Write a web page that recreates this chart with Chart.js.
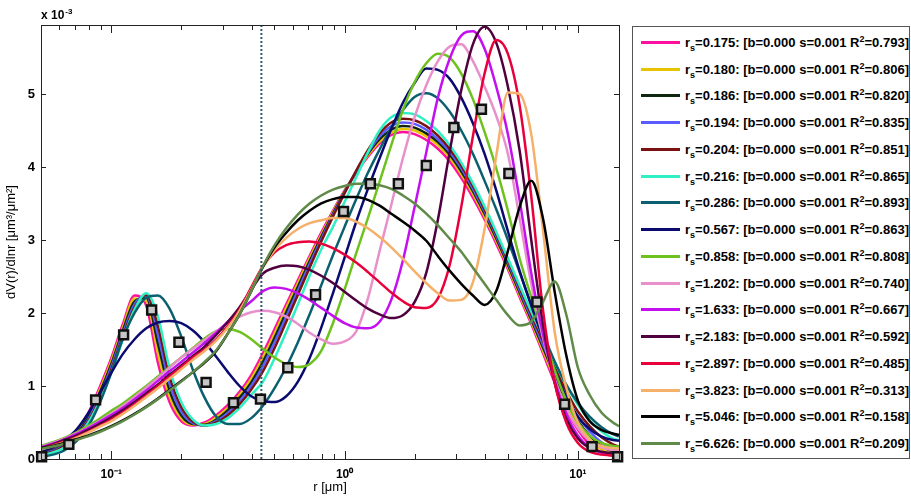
<!DOCTYPE html>
<html>
<head>
<meta charset="utf-8">
<script src="https://cdn.jsdelivr.net/npm/chart.js@4.4.1/dist/chart.umd.min.js"></script>
<style>
  body { margin: 0; background: #fff; }
  #wrap { position: relative; width: 911px; height: 498px; }
  #legend {
    position: absolute; left: 632px; top: 26px; width: 278px; height: 433px;
    border: 1px solid #555; box-sizing: border-box; background: #fff;
    font: bold 13px "Liberation Sans", Arial, sans-serif; color: #000;
  }
  .row { position: absolute; left: 0; height: 20px; display: flex; align-items: center; white-space: nowrap; }
  .sw { display: inline-block; width: 39px; height: 3px; margin-left: 8px; margin-right: 5px; }
  sub, sup { font-size: 9px; line-height: 0; }
</style>
</head>
<body>
<div id="wrap">
  <canvas id="myChart" width="911" height="498"></canvas>
  <div id="legend"></div>
</div>
<script>
// radius grid [um]
const radii = [0.05, 0.0562, 0.0631, 0.0708, 0.0794, 0.0891, 0.1, 0.1122, 0.1259, 0.1413, 0.1585, 0.1778, 0.1995,
  0.2239, 0.2512, 0.2818, 0.3162, 0.3548, 0.3981, 0.4467, 0.5012, 0.5623, 0.631, 0.7079, 0.7943, 0.8913, 1,
  1.122, 1.259, 1.413, 1.585, 1.778, 1.995, 2.239, 2.512, 2.818, 3.162, 3.548, 3.981, 4.467, 5.012, 5.623,
  6.31, 7.079, 7.943, 8.913, 10, 11.22, 12.59, 14.13, 15];

const rsLabels = ["0.175", "0.180", "0.186", "0.194", "0.204", "0.216", "0.286", "0.567",
  "0.858", "1.202", "1.633", "2.183", "2.897", "3.823", "5.046", "6.626"];
const r2Labels = ["0.793", "0.806", "0.820", "0.835", "0.851", "0.865", "0.893", "0.863",
  "0.808", "0.740", "0.667", "0.592", "0.485", "0.313", "0.158", "0.209"];
const colors = ["#ff10a0", "#e8c400", "#0e260e", "#5a5cff", "#7a1212", "#2ef0c4", "#0b6070", "#0a0a70",
  "#6ec21e", "#e890cc", "#c410f0", "#50003e", "#e8003c", "#f5b06a", "#000000", "#5f8a48"];

// dV/dlnr, units of 1e-3
const s0175 = [0.08, 0.13, 0.22, 0.38, 0.62, 0.98, 1.38, 1.85, 2.24, 2.10, 1.32, 0.78, 0.52, 0.46, 0.50, 0.60, 0.74, 0.92, 1.15,
  1.45, 1.78, 2.12, 2.45, 2.78, 3.10, 3.40, 3.68, 3.92, 4.14, 4.32, 4.44, 4.48,
  4.45, 4.37, 4.25, 4.08, 3.85, 3.58, 3.28, 2.95, 2.60, 2.22, 1.85, 1.45, 1.05, 0.68, 0.40, 0.20, 0.09, 0.04, 0.03];
const s0180 = [0.08, 0.12, 0.21, 0.36, 0.59, 0.94, 1.34, 1.80, 2.20, 2.17, 1.45, 0.86, 0.56, 0.47, 0.48, 0.57, 0.70, 0.88, 1.10,
  1.39, 1.72, 2.07, 2.41, 2.75, 3.07, 3.38, 3.67, 3.93, 4.16, 4.35, 4.47, 4.52,
  4.50, 4.42, 4.30, 4.13, 3.90, 3.63, 3.32, 2.99, 2.63, 2.25, 1.88, 1.49, 1.10, 0.74, 0.46, 0.26, 0.13, 0.07, 0.06];
const s0186 = [0.07, 0.12, 0.20, 0.34, 0.56, 0.90, 1.30, 1.76, 2.16, 2.21, 1.58, 0.94, 0.60, 0.48, 0.47, 0.54, 0.67, 0.84, 1.05,
  1.33, 1.66, 2.01, 2.36, 2.71, 3.04, 3.36, 3.66, 3.93, 4.18, 4.38, 4.51, 4.56,
  4.54, 4.46, 4.34, 4.17, 3.94, 3.67, 3.36, 3.02, 2.66, 2.28, 1.91, 1.53, 1.15, 0.80, 0.52, 0.32, 0.18, 0.10, 0.08];
const s0194 = [0.07, 0.11, 0.19, 0.32, 0.53, 0.86, 1.26, 1.72, 2.12, 2.24, 1.70, 1.03, 0.65, 0.49, 0.46, 0.52, 0.63, 0.79, 1.00,
  1.27, 1.60, 1.95, 2.31, 2.67, 3.01, 3.34, 3.65, 3.94, 4.20, 4.42, 4.56, 4.61,
  4.59, 4.51, 4.38, 4.21, 3.98, 3.70, 3.39, 3.05, 2.69, 2.31, 1.94, 1.57, 1.20, 0.86, 0.58, 0.38, 0.23, 0.14, 0.12];
const s0204 = [0.06, 0.10, 0.18, 0.31, 0.51, 0.82, 1.22, 1.68, 2.08, 2.25, 1.82, 1.13, 0.71, 0.51, 0.46, 0.50, 0.60, 0.75, 0.95,
  1.20, 1.52, 1.88, 2.25, 2.62, 2.98, 3.32, 3.64, 3.95, 4.23, 4.46, 4.61, 4.66,
  4.64, 4.56, 4.43, 4.25, 4.02, 3.74, 3.42, 3.08, 2.72, 2.35, 1.98, 1.62, 1.26, 0.93, 0.65, 0.45, 0.30, 0.20, 0.17];
const s0216 = [0.05, 0.09, 0.16, 0.29, 0.49, 0.79, 1.18, 1.64, 2.05, 2.27, 1.95, 1.24, 0.78, 0.54, 0.46, 0.48, 0.56, 0.70, 0.88,
  1.06, 1.38, 1.74, 2.12, 2.51, 2.87, 3.18, 3.52, 3.86, 4.20, 4.50, 4.68, 4.74,
  4.72, 4.63, 4.49, 4.30, 4.06, 3.78, 3.46, 3.11, 2.75, 2.38, 2.02, 1.67, 1.33, 1.01, 0.74, 0.53, 0.38, 0.28, 0.26];
const s0286 = [0.03, 0.06, 0.12, 0.24, 0.44, 0.76, 1.18, 1.65, 2.00, 2.21, 2.24, 2.06, 1.68, 1.22, 0.84, 0.58, 0.48, 0.48, 0.56,
  0.73, 0.97, 1.26, 1.60, 1.98, 2.38, 2.79, 3.18, 3.56, 3.92, 4.24, 4.54, 4.78,
  4.96, 5.01, 4.94, 4.76, 4.50, 4.18, 3.81, 3.42, 3.00, 2.56, 2.12, 1.72, 1.34, 1.02, 0.77, 0.58, 0.44, 0.34, 0.31];
const s0567 = [0.10, 0.16, 0.26, 0.40, 0.62, 0.90, 1.18, 1.44, 1.64, 1.79, 1.87, 1.89, 1.86, 1.76, 1.60, 1.40, 1.19, 1.00, 0.86,
  0.79, 0.78, 0.86, 1.06, 1.38, 1.80, 2.27, 2.76, 3.25, 3.70, 4.12, 4.52, 4.88,
  5.15, 5.35, 5.33, 5.21, 4.95, 4.60, 4.18, 3.68, 3.12, 2.58, 2.10, 1.66, 1.22, 0.85, 0.58, 0.41, 0.31, 0.26, 0.25];
const s0858 = [0.18, 0.23, 0.29, 0.36, 0.45, 0.55, 0.66, 0.76, 0.88, 1.00, 1.13, 1.26, 1.39, 1.52, 1.65, 1.75, 1.78, 1.74, 1.64,
  1.51, 1.39, 1.30, 1.26, 1.30, 1.48, 1.86, 2.32, 2.82, 3.30, 3.80, 4.30, 4.78,
  5.16, 5.42, 5.55, 5.50, 5.28, 4.93, 4.48, 3.98, 3.40, 2.75, 2.22, 1.72, 1.22, 0.80, 0.50, 0.32, 0.22, 0.18, 0.17];
const s1202 = [0.17, 0.22, 0.28, 0.35, 0.43, 0.52, 0.62, 0.73, 0.85, 0.98, 1.11, 1.25, 1.39, 1.51, 1.63, 1.75, 1.86, 1.95, 2.01,
  2.03, 2.01, 1.95, 1.85, 1.73, 1.64, 1.58, 1.61, 1.75, 2.20, 2.85, 3.48, 4.12,
  4.68, 5.12, 5.45, 5.65, 5.68, 5.45, 5.10, 4.70, 4.18, 3.30, 2.40, 1.66, 1.10, 0.70, 0.42, 0.25, 0.16, 0.12, 0.11];
const s1633 = [0.16, 0.21, 0.27, 0.34, 0.42, 0.51, 0.60, 0.70, 0.82, 0.94, 1.07, 1.20, 1.33, 1.46, 1.59, 1.73, 1.88, 2.03, 2.16,
  2.30, 2.35, 2.33, 2.27, 2.18, 2.07, 1.96, 1.86, 1.80, 1.79, 1.88, 2.18, 2.72,
  3.45, 4.20, 4.95, 5.48, 5.80, 5.86, 5.62, 5.10, 4.45, 3.55, 2.55, 1.72, 1.08, 0.62, 0.32, 0.16, 0.09, 0.07, 0.06];
const s2183 = [0.15, 0.20, 0.26, 0.32, 0.40, 0.48, 0.57, 0.67, 0.78, 0.90, 1.02, 1.15, 1.28, 1.41, 1.54, 1.70, 1.88, 2.08, 2.32,
  2.54, 2.62, 2.65, 2.64, 2.59, 2.51, 2.41, 2.29, 2.17, 2.06, 1.98, 1.93, 1.97,
  2.15, 2.55, 3.28, 4.20, 5.05, 5.68, 5.92, 5.70, 5.10, 4.23, 3.00, 1.85, 1.05, 0.55, 0.28, 0.15, 0.10, 0.08, 0.08];
const s2897 = [0.14, 0.19, 0.24, 0.30, 0.37, 0.45, 0.54, 0.64, 0.75, 0.87, 1.00, 1.13, 1.26, 1.39, 1.50, 1.64, 1.82, 2.05, 2.35,
  2.64, 2.83, 2.93, 2.97, 2.98, 2.95, 2.89, 2.80, 2.69, 2.56, 2.42, 2.28, 2.16,
  2.08, 2.07, 2.20, 2.65, 3.45, 4.42, 5.28, 5.74, 5.55, 4.85, 3.60, 2.05, 1.05, 0.50, 0.22, 0.10, 0.06, 0.05, 0.05];
const s3823 = [0.13, 0.18, 0.23, 0.29, 0.36, 0.44, 0.52, 0.62, 0.73, 0.85, 0.97, 1.10, 1.23, 1.36, 1.48, 1.62, 1.80, 2.03, 2.32,
  2.63, 2.86, 3.03, 3.15, 3.23, 3.27, 3.30, 3.30, 3.25, 3.16, 3.04, 2.90, 2.74,
  2.57, 2.41, 2.27, 2.17, 2.18, 2.42, 3.15, 4.15, 5.02, 5.00, 4.45, 3.15, 1.75, 0.98, 0.50, 0.27, 0.18, 0.15, 0.14];
const s5046 = [0.15, 0.18, 0.22, 0.27, 0.32, 0.38, 0.45, 0.53, 0.62, 0.72, 0.83, 0.95, 1.07, 1.19, 1.32, 1.48, 1.72, 1.98, 2.30,
  2.63, 2.90, 3.10, 3.27, 3.40, 3.50, 3.56, 3.59, 3.59, 3.55, 3.47, 3.36, 3.25,
  3.13, 2.99, 2.78, 2.58, 2.40, 2.24, 2.11, 2.30, 2.85, 3.45, 3.81, 3.30, 2.30, 1.42, 0.80, 0.52, 0.40, 0.35, 0.33];
const s6626 = [0.14, 0.17, 0.21, 0.26, 0.31, 0.37, 0.44, 0.52, 0.61, 0.71, 0.82, 0.94, 1.06, 1.19, 1.33, 1.49, 1.72, 1.98, 2.30,
  2.64, 2.93, 3.16, 3.35, 3.50, 3.61, 3.69, 3.74, 3.77, 3.77, 3.75, 3.70, 3.61,
  3.50, 3.36, 3.20, 3.02, 2.84, 2.62, 2.40, 2.18, 1.97, 1.83, 1.88, 2.15, 2.43, 1.98, 1.25, 0.88, 0.64, 0.50, 0.45];

// measured points
const measR = [0.0503, 0.0658, 0.0857, 0.113, 0.149, 0.195, 0.255, 0.334, 0.436, 0.571, 0.751,
  0.99, 1.29, 1.70, 2.24, 2.94, 3.86, 5.06, 6.67, 8.77, 11.5, 14.8];
const measV = [0.03, 0.20, 0.81, 1.70, 2.04, 1.60, 1.05, 0.77, 0.82, 1.25, 2.25,
  3.39, 3.77, 3.77, 4.02, 4.54, 4.79, 3.91, 2.15, 0.75, 0.17, 0.03];

const cutRadius = 0.44;
const yTop = 5.945;

const seriesValues = [s0175, s0180, s0186, s0194, s0204, s0216, s0286, s0567,
  s0858, s1202, s1633, s2183, s2897, s3823, s5046, s6626];

Chart.defaults.font.family = '"Liberation Sans", Arial, sans-serif';
Chart.defaults.color = "#000";

const supDigits = { "-": "\u207B", "0": "\u2070", "1": "\u00B9", "2": "\u00B2", "3": "\u00B3" };

let datasets = [];
datasets.push({
  label: "measured",
  data: measR.map((x, i) => ({ x: x, y: measV[i] })),
  showLine: false,
  pointStyle: "rect",
  pointRadius: 6.3,
  backgroundColor: "#c6c6c6",
  borderColor: "#111",
  pointBorderWidth: 2.5,
  clip: false,
  order: 0,
});
datasets.push({
  label: "cut",
  data: [{ x: cutRadius, y: 0 }, { x: cutRadius, y: yTop }],
  borderColor: "#33586a",
  borderWidth: 2,
  borderDash: [2, 2],
  pointRadius: 0,
  order: 1,
});
seriesValues.forEach((vals, i) => {
  datasets.push({
    label: "rs=" + rsLabels[i],
    data: radii.map((x, j) => ({ x: x, y: vals[j] })),
    borderColor: colors[i],
    borderWidth: 2.5,
    pointRadius: 0,
    cubicInterpolationMode: "monotone",
    order: 100 - i,
  });
});

const frame = {
  id: "frame",
  afterDraw(chart) {
    const { ctx, chartArea: a, scales } = chart;
    const x = scales.x, y = scales.y;
    ctx.save();
    ctx.strokeStyle = "#222";
    ctx.lineWidth = 1;
    ctx.strokeRect(Math.round(a.left) + 0.5, Math.round(a.top) + 0.5,
      Math.round(a.right - a.left), Math.round(a.bottom - a.top));
    ctx.beginPath();
    for (let e = -2; e <= 1; e++) {
      for (let m = 1; m <= 9; m++) {
        const v = m * Math.pow(10, e);
        if (v < x.min || v > x.max) continue;
        const px = Math.round(x.getPixelForValue(v)) + 0.5;
        const len = m === 1 ? 8 : 5;
        ctx.moveTo(px, a.bottom); ctx.lineTo(px, a.bottom - len);
        ctx.moveTo(px, a.top); ctx.lineTo(px, a.top + len);
      }
    }
    for (let v = 0; v <= 5; v++) {
      const py = Math.round(y.getPixelForValue(v)) + 0.5;
      ctx.moveTo(a.left, py); ctx.lineTo(a.left + 5, py);
      ctx.moveTo(a.right, py); ctx.lineTo(a.right - 5, py);
    }
    ctx.stroke();
    ctx.fillStyle = "#000";
    ctx.font = 'bold 12px "Liberation Sans", Arial, sans-serif';
    ctx.textBaseline = "alphabetic";
    ctx.fillText("x 10", a.left, a.top - 6);
    const w = ctx.measureText("x 10").width;
    ctx.font = 'bold 8px "Liberation Sans", Arial, sans-serif';
    ctx.fillText("-3", a.left + w + 1, a.top - 11);
    ctx.restore();
  },
};

const ctx = document.getElementById("myChart");
new Chart(ctx, {
  type: "line",
  data: { datasets: datasets },
  options: {
    responsive: false,
    animation: false,
    layout: { padding: { left: 0, top: 25, right: 292, bottom: 0 } },
    plugins: { legend: { display: false }, tooltip: { enabled: false } },
    scales: {
      x: {
        type: "logarithmic",
        min: 0.05,
        max: 15,
        grid: { display: false, drawTicks: false },
        border: { display: false },
        ticks: {
          autoSkip: false,
          maxRotation: 0,
          padding: 8,
          font: { size: 12, weight: "bold" },
          callback: function (value) {
            const e = Math.log10(value);
            if (Math.abs(e - Math.round(e)) > 1e-6) return null;
            const s = String(Math.round(e)).split("").map((c) => supDigits[c]).join("");
            return "10" + s;
          },
        },
        title: { display: true, text: "r [\u03BCm]", font: { size: 13 }, padding: { top: 0, bottom: 3 } },
        afterFit: function (scale) { scale.height = 39; },
      },
      y: {
        min: 0,
        max: yTop,
        grid: { display: false, drawTicks: false },
        border: { display: false },
        ticks: {
          stepSize: 1,
          padding: 6,
          font: { size: 13, weight: "bold" },
          callback: function (value) {
            return Number.isInteger(value) ? value : null;
          },
        },
        title: { display: true, text: "dV(r)/dlnr [\u03BCm\u00B3/\u03BCm\u00B2]", font: { size: 13 }, padding: { top: 4, bottom: 0 } },
        afterFit: function (scale) { scale.width = 41; },
      },
    },
  },
  plugins: [frame],
});

// legend with sub/superscripts
let legendBox = document.getElementById("legend");
let html = "";
rsLabels.forEach((rs, i) => {
  const top = 42.3 + 26.75 * i - 10 - 27;
  html += '<div class="row" style="top:' + top.toFixed(1) + 'px">' +
    '<span class="sw" style="background:' + colors[i] + '"></span>' +
    "<span>r<sub>s</sub>=" + rs + ": [b=0.000 s=0.001 R<sup>2</sup>=" + r2Labels[i] + "]</span></div>";
});
legendBox.innerHTML = html;
</script>
</body>
</html>
